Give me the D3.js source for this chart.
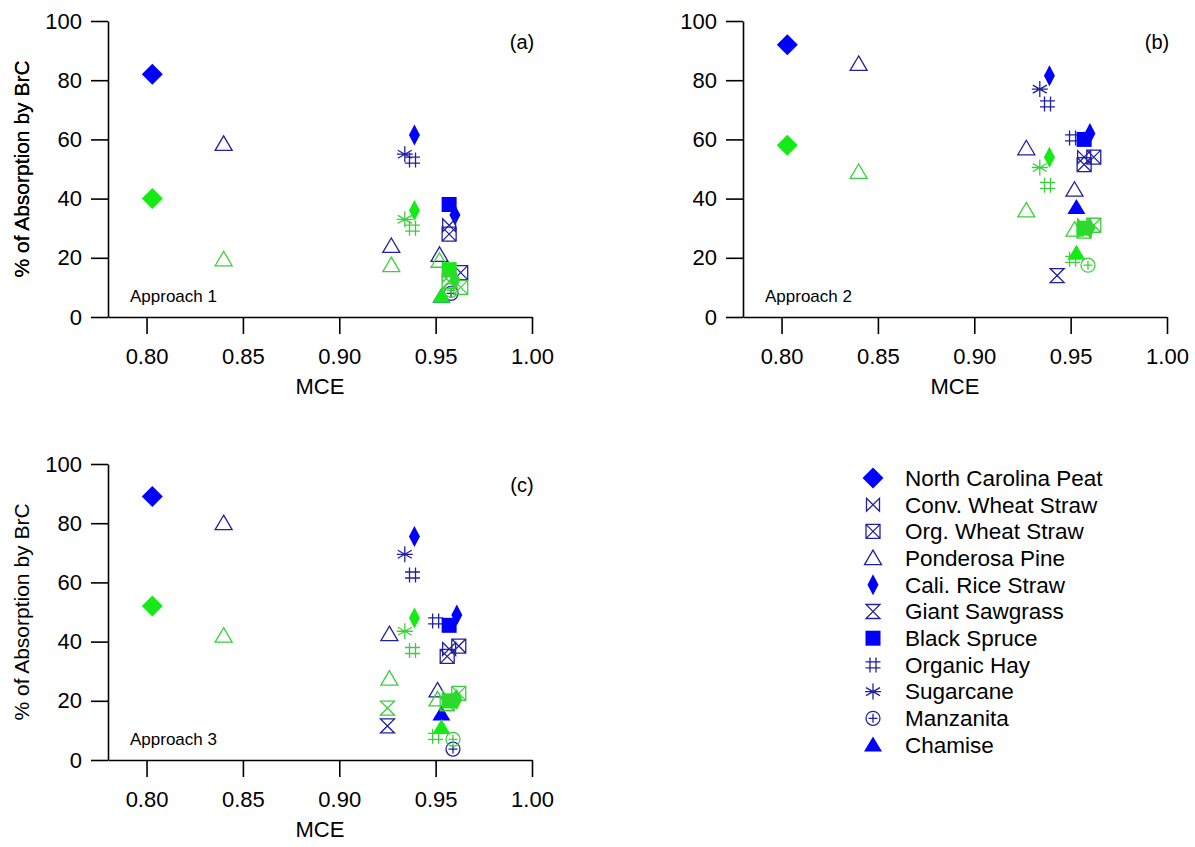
<!DOCTYPE html>
<html>
<head>
<meta charset="utf-8">
<title>BrC absorption vs MCE</title>
<script src="https://cdn.jsdelivr.net/npm/d3@7"></script>
<style>
body { margin: 0; background-color: #fff; font-family: 'Liberation Sans', Arial, sans-serif; }
#svg { background-color: #fff; }
.axis path, .axis line { stroke: #000; stroke-width: 1.6px; }
.axis text { font-family: 'Liberation Sans', Arial, sans-serif; font-size: 22px; fill: #000; }
</style>
</head>
<body>
<svg id="svg"></svg>
<script>

// legend order
var fuels = ["North Carolina Peat", "Conv. Wheat Straw", "Org. Wheat Straw", "Ponderosa Pine",
	"Cali. Rice Straw", "Giant Sawgrass", "Black Spruce", "Organic Hay", "Sugarcane", "Manzanita", "Chamise"];
var markers = ["diamond", "bowtie", "boxx", "triangle", "thinDiamond", "hourglass",
	"square", "hash", "asterisk", "circlePlus", "triangleFilled"];

var xTicks = [0.80, 0.85, 0.90, 0.95, 1.00];
var yTicks = [0, 20, 40, 60, 80, 100];

// [fuel, MCE, blue series (%), green series (%)]
var approach1 = [
	["North Carolina Peat", 0.803, 82, 40],
	["Ponderosa Pine", 0.840, 58.5, 19.5],
	["Ponderosa Pine", 0.927, 24, 17.5],
	["Ponderosa Pine", 0.952, 21, 19],
	["Sugarcane", 0.934, 55, 33],
	["Organic Hay", 0.938, 53, 30],
	["Cali. Rice Straw", 0.939, 61.5, 36],
	["Cali. Rice Straw", 0.960, 34.5, 12.5],
	["Black Spruce", 0.957, 38, 16],
	["Conv. Wheat Straw", 0.957, 31, 14],
	["Org. Wheat Straw", 0.957, 28, 12],
	["Org. Wheat Straw", 0.963, 15, 10],
	["Manzanita", 0.958, 8, 9],
	["Chamise", 0.953, 7, 7]
];

var approach2 = [
	["North Carolina Peat", 0.803, 92, 58],
	["Ponderosa Pine", 0.840, 85.5, 49],
	["Ponderosa Pine", 0.927, 57, 36],
	["Ponderosa Pine", 0.952, 43, 29.5],
	["Sugarcane", 0.934, 77, 50.5],
	["Organic Hay", 0.938, 72, 44.5],
	["Organic Hay", 0.951, 60.5, 19.5],
	["Cali. Rice Straw", 0.939, 81.5, 54],
	["Cali. Rice Straw", 0.960, 62, 30],
	["Black Spruce", 0.957, 60, 30],
	["Conv. Wheat Straw", 0.957, 54, 31],
	["Org. Wheat Straw", 0.957, 51.5, 29],
	["Org. Wheat Straw", 0.962, 54, 31],
	["Giant Sawgrass", 0.943, 14, null],
	["Manzanita", 0.959, null, 17.5],
	["Chamise", 0.953, 37, 21.5]
];

var approach3 = [
	["North Carolina Peat", 0.803, 89, 52],
	["Ponderosa Pine", 0.840, 80, 42],
	["Ponderosa Pine", 0.926, 42.5, 27.5],
	["Ponderosa Pine", 0.951, 23.5, 20.5],
	["Sugarcane", 0.934, 69.5, 43.5],
	["Organic Hay", 0.938, 62.5, 37],
	["Organic Hay", 0.950, 47, 8],
	["Cali. Rice Straw", 0.939, 75.5, 48],
	["Cali. Rice Straw", 0.961, 49, 20.5],
	["Black Spruce", 0.957, 45.5, 20],
	["Conv. Wheat Straw", 0.957, 37.5, 21],
	["Org. Wheat Straw", 0.956, 35, 19],
	["Org. Wheat Straw", 0.962, 38.5, 22.5],
	["Giant Sawgrass", 0.925, 11.5, 17.5],
	["Manzanita", 0.959, 3.7, 7],
	["Chamise", 0.953, 15.5, 11]
];

var colors = {
	blue: {fill: "#0000ff", line: "#2020a0"},
	green: {fill: "#16ea16", line: "#3ccf3c"}
};

var svg = d3.select("#svg").attr("width", 1195).attr("height", 847);

var panelW = 424, panelH = 296;
var panels = [
	{tag: "(a)", name: "Approach 1", data: approach1, left: 108, top: 21},
	{tag: "(b)", name: "Approach 2", data: approach2, left: 743, top: 21},
	{tag: "(c)", name: "Approach 3", data: approach3, left: 108, top: 464}
];

// marker outlines, centered on 0,0
function markerPath(type) {
	var p = d3.path();
	switch (type) {
		case "diamond":
			p.moveTo(0, -10.5); p.lineTo(10.5, 0); p.lineTo(0, 10.5); p.lineTo(-10.5, 0); p.closePath(); break;
		case "thinDiamond":
			p.moveTo(0, -10.5); p.lineTo(5.5, 0); p.lineTo(0, 10.5); p.lineTo(-5.5, 0); p.closePath(); break;
		case "bowtie":
			p.moveTo(-6.5, -6.5); p.lineTo(6.5, 6.5); p.lineTo(6.5, -6.5); p.lineTo(-6.5, 6.5); p.closePath(); break;
		case "hourglass":
			p.moveTo(-7, -7); p.lineTo(7, -7); p.lineTo(-7, 7); p.lineTo(7, 7); p.closePath(); break;
		case "boxx":
			p.rect(-7, -7, 14, 14);
			p.moveTo(-7, -7); p.lineTo(7, 7); p.moveTo(7, -7); p.lineTo(-7, 7); break;
		case "triangle":
			p.moveTo(0, -8); p.lineTo(8.5, 6.5); p.lineTo(-8.5, 6.5); p.closePath(); break;
		case "triangleFilled":
			p.moveTo(0, -8.5); p.lineTo(9, 6.5); p.lineTo(-9, 6.5); p.closePath(); break;
		case "square":
			p.rect(-7.5, -7.5, 15, 15); break;
		case "hash":
			p.moveTo(-3, -7.5); p.lineTo(-3, 7.5); p.moveTo(3, -7.5); p.lineTo(3, 7.5);
			p.moveTo(-7.5, -3); p.lineTo(7.5, -3); p.moveTo(-7.5, 3); p.lineTo(7.5, 3); break;
		case "asterisk":
			p.moveTo(0, -8); p.lineTo(0, 8);
			p.moveTo(-7, -4); p.lineTo(7, 4); p.moveTo(-7, 4); p.lineTo(7, -4);
			p.moveTo(-8, 0); p.lineTo(8, 0); break;
		case "circlePlus":
			p.moveTo(7, 0); p.arc(0, 0, 7, 0, 2 * Math.PI);
			p.moveTo(-4.5, 0); p.lineTo(4.5, 0); p.moveTo(0, -4.5); p.lineTo(0, 4.5); break;
	}
	return p.toString();
}

function isFilled(type) {
	return ["diamond", "thinDiamond", "square", "triangleFilled"].indexOf(type) >= 0;
}

function drawMarker(g, fuel, x, y, col) {
	var type = markers[fuels.indexOf(fuel)];
	var m = g.append("path")
		.attr("d", markerPath(type))
		.attr("transform", "translate(" + x + "," + y + ")");
	if (isFilled(type)) {
		m.style("fill", col.fill).style("stroke", "none");
	} else {
		m.style("fill", "none").style("stroke", col.line).style("stroke-width", 1.3);
	}
}

panels.forEach(function (pn) {
	var g = svg.append("g").attr("transform", "translate(" + pn.left + "," + pn.top + ")");

	var x = d3.scaleLinear().domain([0.78, 1.00]).range([0, panelW]);
	var y = d3.scaleLinear().domain([0, 100]).range([panelH, 0]);

	g.append("g").attr("class", "axis")
		.attr("transform", "translate(0," + panelH + ")")
		.call(d3.axisBottom(x).tickValues(xTicks).tickFormat(d3.format(".2f"))
			.tickSizeInner(17).tickSizeOuter(0).tickPadding(14));

	g.append("g").attr("class", "axis")
		.call(d3.axisLeft(y).tickValues(yTicks).tickSizeInner(17).tickSizeOuter(0).tickPadding(9));

	// blue series under green series
	pn.data.forEach(function (d) {
		if (d[2] != null) drawMarker(g, d[0], x(d[1]), y(d[2]), colors.blue);
	});
	pn.data.forEach(function (d) {
		if (d[3] != null) drawMarker(g, d[0], x(d[1]), y(d[3]), colors.green);
	});

	g.append("text")
		.attr("x", panelW / 2).attr("y", panelH + 77)
		.style("text-anchor", "middle").style("font-size", "22px")
		.text("MCE");

	g.append("text")
		.attr("transform", "translate(" + (22 - pn.left) + "," + (panelH / 2) + ") rotate(-90)")
		.attr("dy", "0.35em")
		.style("text-anchor", "middle").style("font-size", "21px")
		.text("% of Absorption by BrC");

	g.append("text")
		.attr("x", panelW - 10).attr("y", 21)
		.attr("dy", "0.35em")
		.style("text-anchor", "middle").style("font-size", "20px")
		.text(pn.tag);

	g.append("text")
		.attr("x", 22).attr("y", panelH - 21)
		.attr("dy", "0.35em")
		.style("font-size", "17px")
		.text(pn.name);
});

// legend
var legend = svg.append("g").attr("transform", "translate(873,478)");
fuels.forEach(function (f, i) {
	var row = legend.append("g").attr("transform", "translate(0," + (i * 26.7) + ")");
	drawMarker(row, f, 0, 0, colors.blue);
	row.append("text")
		.attr("x", 32).attr("y", 0).attr("dy", "0.35em")
		.style("font-size", "22.5px")
		.text(f);
});

</script>
</body>
</html>
